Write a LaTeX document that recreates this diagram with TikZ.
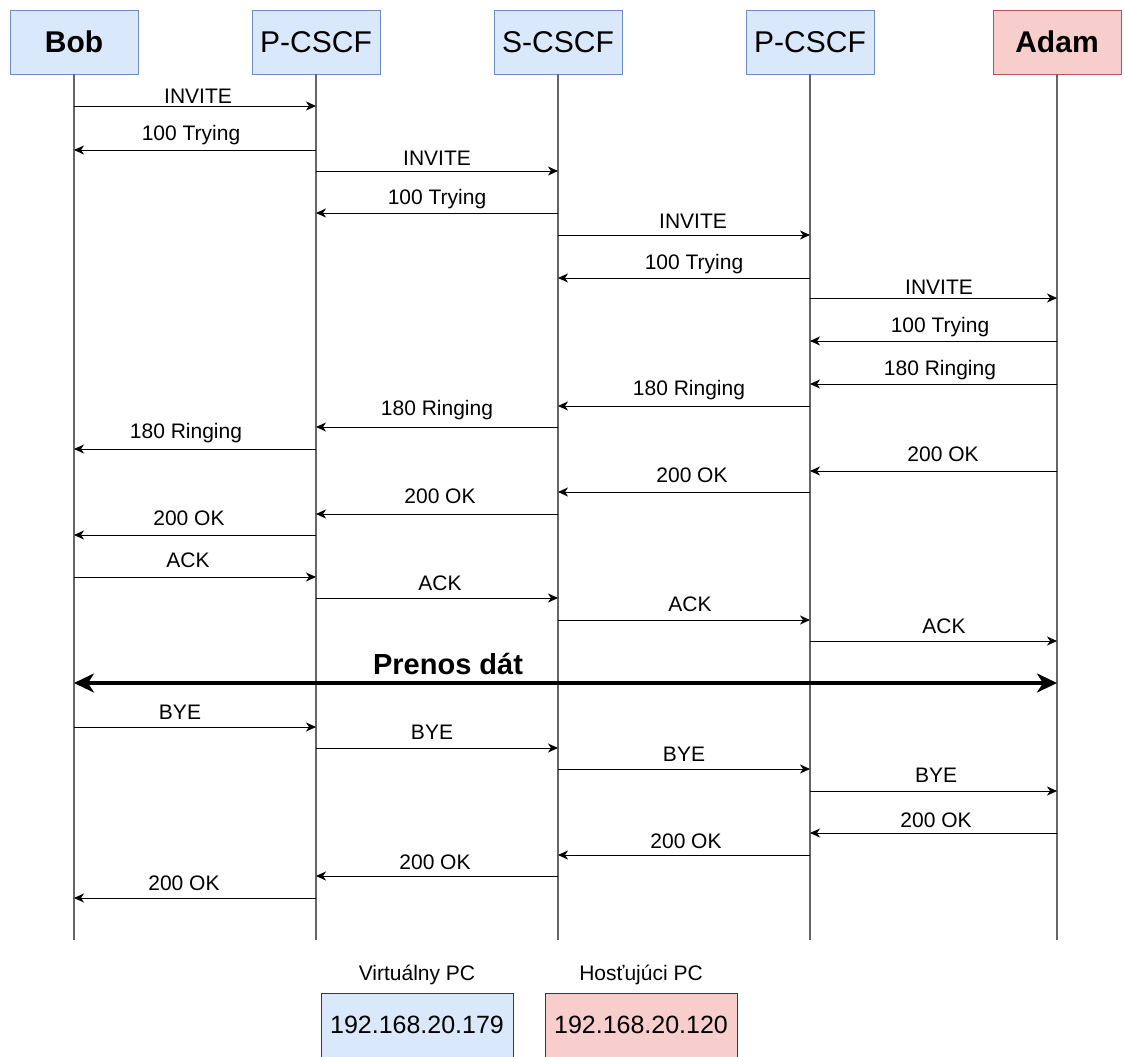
\documentclass[tikz,border=0pt]{standalone}
\usepackage{fontspec}
\setmainfont{Liberation Sans}
\usetikzlibrary{arrows.meta}
\definecolor{boxblue}{HTML}{DAE8FC}
\definecolor{edgeblue}{HTML}{6C8EBF}
\definecolor{boxred}{HTML}{F8CECC}
\definecolor{edgered}{HTML}{B85450}
\definecolor{lifegrey}{HTML}{666666}
\definecolor{ipedge}{HTML}{36393D}
\tikzset{
  party/.style={draw=edgeblue, fill=boxblue, line width=0.9pt, minimum width=128pt, minimum height=64pt, inner sep=0pt, font=\fontsize{30}{33}\selectfont},
  partyred/.style={party, draw=edgered, fill=boxred},
  lifeline/.style={draw=lifegrey, line width=1.2pt},
  msg/.style={draw=black, line width=0.9pt, -{Stealth[length=10pt,width=9pt,inset=3pt]}},
  lbl/.style={inner sep=0pt, font=\fontsize{21}{23}\selectfont},
  bigarrow/.style={draw=black, line width=3.2pt, {Stealth[length=20pt,width=19pt,inset=6pt]}-{Stealth[length=20pt,width=19pt,inset=6pt]}},
  ipbox/.style={draw=ipedge, line width=0.9pt, inner sep=0pt, minimum width=192pt, minimum height=64pt, font=\fontsize{25}{28}\selectfont},
  caption/.style={inner sep=0pt, font=\fontsize{21}{23}\selectfont}
}
\begin{document}
\begin{tikzpicture}[x=1pt, y=-1pt]
\useasboundingbox (0,0) rectangle (1124,1057);

% participants
\node[party]    (bob)  at (74,42)   {\textbf{Bob}};
\node[party]    (pa)   at (316,42)  {P-CSCF};
\node[party]    (sc)   at (558,42)  {S-CSCF};
\node[party]    (pb)   at (810,42)  {P-CSCF};
\node[partyred] (adam) at (1057,42) {\textbf{Adam}};

% lifelines
\foreach \p in {bob,pa,sc,pb,adam} {
  \coordinate (\p end) at (\p |- 0,940);
  \draw[lifeline] (\p.south) -- (\p end);
}

% signalling messages: from/to/arrow y/label x/label y/text
\foreach \f/\t/\y/\lx/\ly/\txt [count=\i] in {
  bob/pa/106/198/96/INVITE,
  pa/bob/150/191/135/100 Trying,
  pa/sc/171/437/158/INVITE,
  sc/pa/213/437/199/100 Trying,
  sc/pb/235/693/221/INVITE,
  pb/sc/278/694/264/100 Trying,
  pb/adam/298/939/287/INVITE,
  adam/pb/341/940/327/100 Trying,
  adam/pb/384/940/370/180 Ringing,
  pb/sc/406/689/390/180 Ringing,
  sc/pa/427/437/410/180 Ringing,
  pa/bob/449/186/433/180 Ringing,
  adam/pb/471/943/454/200 OK,
  pb/sc/492/692/475/200 OK,
  sc/pa/514/440/496/200 OK,
  pa/bob/535/189/518/200 OK,
  bob/pa/577/188/560/ACK,
  pa/sc/598/440/583/ACK,
  sc/pb/620/690/604/ACK,
  pb/adam/641/944/626/ACK,
  bob/pa/727/180/712/BYE,
  pa/sc/748/432/732/BYE,
  sc/pb/769/684/754/BYE,
  pb/adam/791/936/775/BYE,
  adam/pb/833/936/820/200 OK,
  pb/sc/855/686/841/200 OK,
  sc/pa/876/435/862/200 OK,
  pa/bob/898/184/883/200 OK} {
  \draw[msg] (\f |- 0,\y) -- (\t |- 0,\y);
  \node[lbl] (m\i) at (\lx,\ly) {\txt};
}

% media exchange
\draw[bigarrow] (bob |- 0,683) -- (adam |- 0,683);
\node[inner sep=0pt, font=\fontsize{29}{32}\selectfont\bfseries] (media) at (448,664) {Prenos dát};

% addresses
\node[caption] (vcap) at (417,975) {Virtuálny PC};
\node[caption] (hcap) at (641,975) {Hosťujúci PC};
\node[ipbox, fill=boxblue] (vip) at (417,1025) {192.168.20.179};
\node[ipbox, fill=boxred]  (hip) at (641,1025) {192.168.20.120};
\end{tikzpicture}
\end{document}
